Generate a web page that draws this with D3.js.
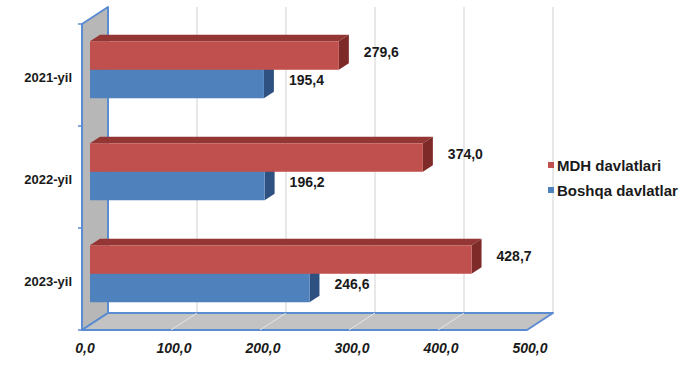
<!DOCTYPE html>
<html><head><meta charset="utf-8">
<script src="https://cdn.jsdelivr.net/npm/d3@7"></script>
<style>body{margin:0;background:#fff}svg{display:block}text{font-family:Arial,"Liberation Sans",sans-serif}</style>
</head><body>
<svg id="c" width="689" height="371"></svg>
<script>
const categories = ["2021-yil", "2022-yil", "2023-yil"];
const seriesNames = ["MDH davlatlari", "Boshqa davlatlar"];
const mdh = [279.6, 374.0, 428.7];
const boshqa = [195.4, 196.2, 246.6];
const tickValues = [0, 100, 200, 300, 400, 500];
const tickLabels = ["0,0", "100,0", "200,0", "300,0", "400,0", "500,0"];
const valueLabels = {mdh: ["279,6", "374,0", "428,7"], boshqa: ["195,4", "196,2", "246,6"]};

const colors = {
  "MDH davlatlari": {front: "#c0504d", top: "#943634", side: "#7d2a28"},
  "Boshqa davlatlar": {front: "#4f81bd", top: "#3a6294", side: "#2f5182"}
};

const svg = d3.select("#c");
const x = d3.scaleLinear().domain([0, 500]).range([82, 527]);
const y0 = d3.scaleBand().domain(categories).range([24, 330]).padding(0);
const y1 = d3.scaleBand().domain(seriesNames).range([0, y0.bandwidth()]).paddingInner(0).paddingOuter(0.79);

const WDX = 26, WDY = -17;            // wall depth
const bOff = 8 / 26, bDep = 10 / 26;  // bar depth position / thickness (fractions)
const ox = WDX * bOff, oy = WDY * bOff;
const dx = WDX * bDep, dy = WDY * bDep;

const y2 = y0.range()[1], yTop = y0.range()[0];
const xmin = x(0), xmax = x(500);

// back wall
svg.append("rect").attr("x", xmin + WDX).attr("y", yTop + WDY).attr("width", xmax - xmin).attr("height", y2 - yTop).attr("fill", "#fff");
svg.append("g").selectAll("line").data(tickValues.slice(1)).join("line")
  .attr("x1", d => x(d) + WDX).attr("x2", d => x(d) + WDX)
  .attr("y1", yTop + WDY).attr("y2", y2 + WDY)
  .attr("stroke", "#d9d9d9").attr("stroke-width", 1.2);

// left wall
svg.append("path")
  .attr("d", `M${xmin},${yTop} L${xmin + WDX},${yTop + WDY} L${xmin + WDX},${y2 + WDY} L${xmin},${y2} Z`)
  .attr("fill", "#b7b7b7").attr("stroke", "#5b8bd0").attr("stroke-width", 2).attr("stroke-linejoin", "round");

// floor
svg.append("path")
  .attr("d", `M${xmin},${y2} L${xmin + WDX},${y2 + WDY} L${xmax + WDX},${y2 + WDY} L${xmax},${y2} Z`)
  .attr("fill", "#c3c3c3").attr("stroke", "#5b8bd0").attr("stroke-width", 2).attr("stroke-linejoin", "round");
svg.append("g").selectAll("line").data(tickValues.slice(1, -1)).join("line")
  .attr("x1", d => x(d)).attr("y1", y2).attr("x2", d => x(d) + WDX).attr("y2", y2 + WDY)
  .attr("stroke", "#e6e6e6").attr("stroke-width", 1);

// category tick marks on wall
svg.append("g").selectAll("line").data([...categories.map(c => y0(c)), y2]).join("line")
  .attr("x1", xmin - 4).attr("x2", xmin).attr("y1", d => d).attr("y2", d => d)
  .attr("stroke", "#5b8bd0").attr("stroke-width", 1.5);

// bars
const rows = [];
categories.forEach((c, i) => {
  rows.push({cat: c, s: "Boshqa davlatlar", v: boshqa[i], lab: valueLabels.boshqa[i]});
  rows.push({cat: c, s: "MDH davlatlari", v: mdh[i], lab: valueLabels.mdh[i]});
});
const bars = svg.append("g");
rows.forEach(r => {
  const x0 = x(0) + ox, x1 = x(r.v) + ox;
  const ya = y0(r.cat) + y1(r.s) + oy, yb = ya + y1.bandwidth();
  const col = colors[r.s];
  const g = bars.append("g");
  g.append("path").attr("d", `M${x0},${ya} L${x0 + dx},${ya + dy} L${x1 + dx},${ya + dy} L${x1},${ya} Z`).attr("fill", col.top);
  g.append("path").attr("d", `M${x1},${ya} L${x1 + dx},${ya + dy} L${x1 + dx},${yb + dy} L${x1},${yb} Z`).attr("fill", col.side);
  g.append("rect").attr("x", x0).attr("y", ya).attr("width", x1 - x0).attr("height", yb - ya).attr("fill", col.front);
  svg.append("text").attr("x", x1 + 25).attr("y", (ya + yb) / 2 - 4)
    .attr("dominant-baseline", "central").attr("font-size", 14).attr("font-weight", "bold")
    .attr("fill", "#1a1a1a").text(r.lab);
});

// category labels
svg.append("g").selectAll("text").data(categories).join("text")
  .attr("x", 72).attr("y", d => y0(d) + y0.bandwidth() / 2 + 2)
  .attr("text-anchor", "end").attr("dominant-baseline", "central")
  .attr("font-size", 13).attr("font-weight", "bold").attr("fill", "#1a1a1a").text(d => d);

// x tick labels
svg.append("g").selectAll("text").data(tickValues).join("text")
  .attr("x", d => x(d) + 3).attr("y", 348)
  .attr("text-anchor", "middle").attr("dominant-baseline", "central")
  .attr("font-size", 14).attr("font-weight", "bold").attr("font-style", "italic")
  .attr("fill", "#1a1a1a").text((d, i) => tickLabels[i]);

// legend
const lg = svg.append("g").attr("transform", "translate(548,165)");
seriesNames.forEach((s, i) => {
  lg.append("rect").attr("x", 0).attr("y", i * 25 - 3).attr("width", 6).attr("height", 6).attr("fill", colors[s].front);
  lg.append("text").attr("x", 9).attr("y", i * 25).attr("dominant-baseline", "central")
    .attr("font-size", 15).attr("font-weight", "bold").attr("fill", "#1a1a1a").text(s);
});
</script>
</body></html>
